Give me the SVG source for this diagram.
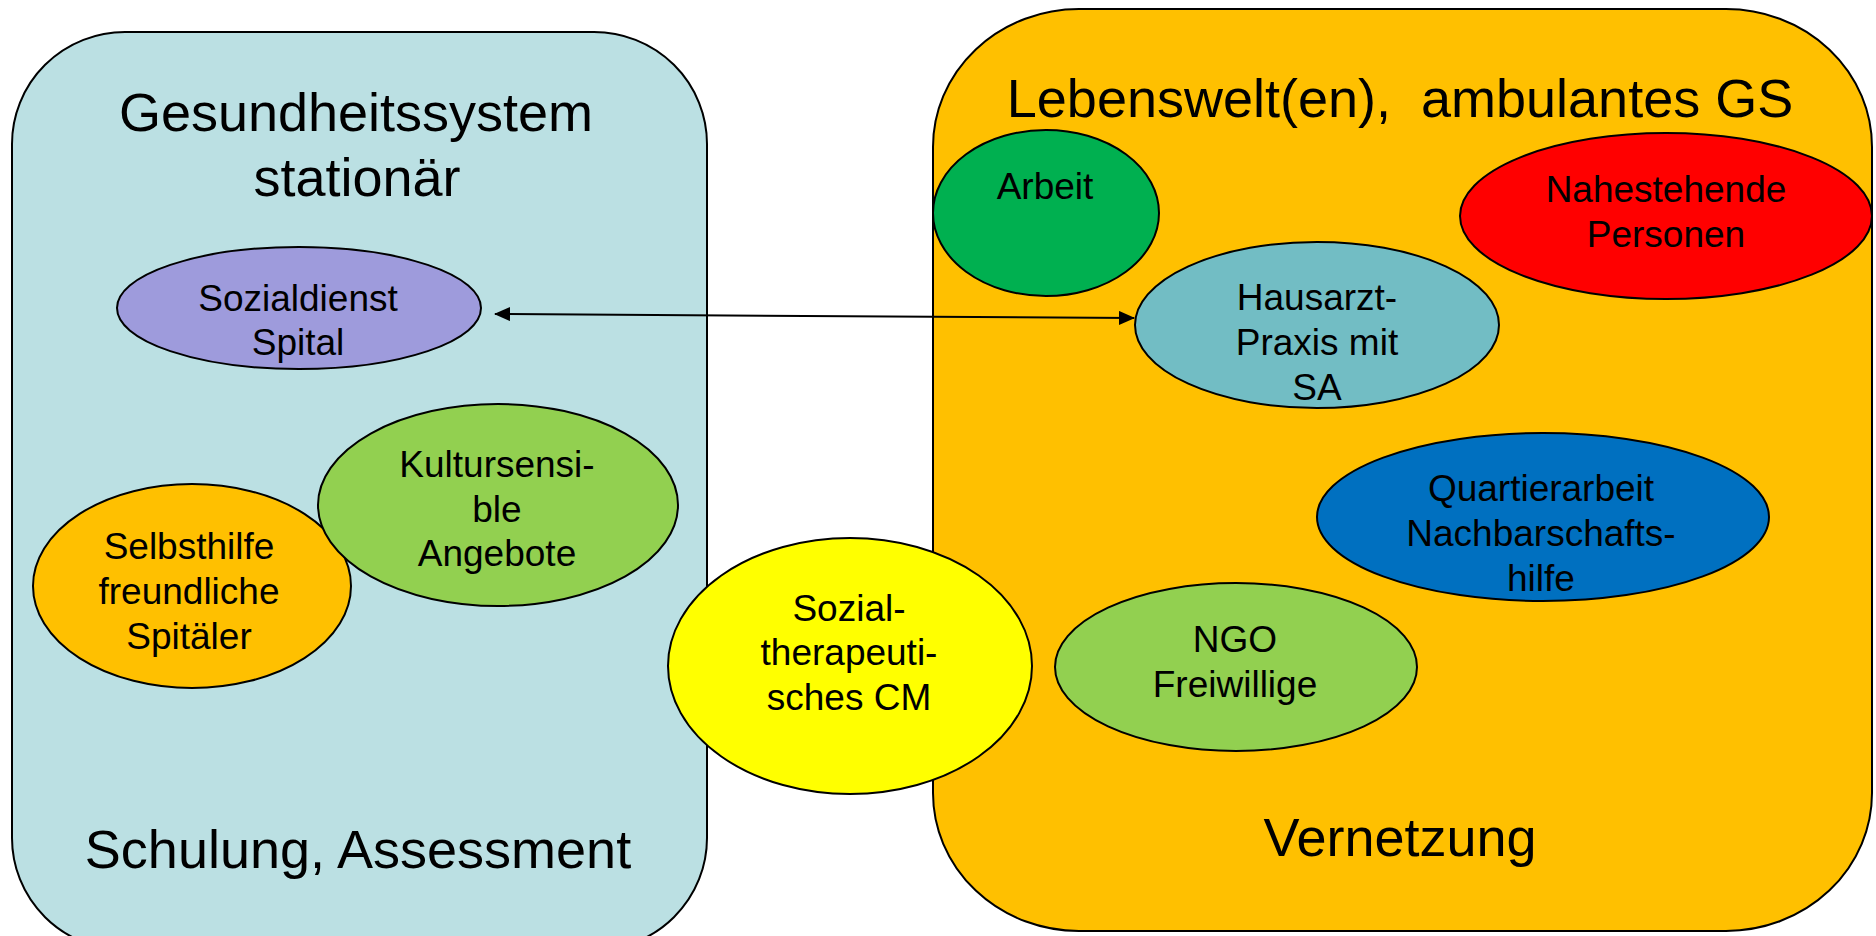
<svg xmlns="http://www.w3.org/2000/svg" width="1876" height="936" viewBox="0 0 1876 936">
<defs>
<style>
.box{stroke:#000;stroke-width:2}
.node{stroke:#000;stroke-width:2}
.big{font-family:"Liberation Sans",Arial,sans-serif;font-size:54px;fill:#000;text-anchor:middle}
.lbl{font-family:"Liberation Sans",Arial,sans-serif;font-size:37px;fill:#000;text-anchor:middle}
.conn{stroke:#000;stroke-width:2;fill:none}
</style>
<marker id="ah" viewBox="0 0 16 14" refX="15" refY="7" markerWidth="16" markerHeight="14" markerUnits="userSpaceOnUse" orient="auto-start-reverse">
<path d="M0,0 L16,7 L0,14 Z" fill="#000"/>
</marker>
</defs>
<rect width="1876" height="936" fill="#fff"/>
<g id="stationaer">
<rect class="box" x="12" y="32" width="695" height="918" rx="113" ry="112" fill="#BBE0E3"/>
<text class="big" x="356" y="131">Gesundheitssystem</text>
<text class="big" x="357" y="196">stationär</text>
<text class="big" x="358" y="868">Schulung, Assessment</text>
</g>
<g id="lebenswelt">
<rect class="box" x="933" y="9" width="939" height="922" rx="146" ry="138" fill="#FFC000"/>
<text class="big" x="1400" y="117">Lebenswelt(en),&#160; ambulantes GS</text>
<text class="big" x="1400" y="856">Vernetzung</text>
</g>
<g id="sozialdienst">
<ellipse class="node" cx="299" cy="308" rx="182" ry="61" fill="#9E9BDC"/>
<text class="lbl" x="298" y="311">Sozialdienst</text>
<text class="lbl" x="298" y="355">Spital</text>
</g>
<g id="selbsthilfe">
<ellipse class="node" cx="192" cy="586" rx="159" ry="102" fill="#FFC000"/>
<text class="lbl" x="189" y="559">Selbsthilfe</text>
<text class="lbl" x="189" y="604">freundliche</text>
<text class="lbl" x="189" y="649">Spitäler</text>
</g>
<g id="kultursensibel">
<ellipse class="node" cx="498" cy="505" rx="180" ry="101" fill="#92D050"/>
<text class="lbl" x="497" y="477">Kultursensi-</text>
<text class="lbl" x="497" y="522">ble</text>
<text class="lbl" x="497" y="566">Angebote</text>
</g>
<g id="arbeit">
<ellipse class="node" cx="1046" cy="213" rx="113" ry="83" fill="#00B050"/>
<text class="lbl" x="1045" y="199">Arbeit</text>
</g>
<g id="nahestehende">
<ellipse class="node" cx="1666" cy="216" rx="206" ry="83" fill="#FF0000"/>
<text class="lbl" x="1666" y="202">Nahestehende</text>
<text class="lbl" x="1666" y="247">Personen</text>
</g>
<g id="hausarzt">
<ellipse class="node" cx="1317" cy="325" rx="182" ry="83" fill="#72BDC4"/>
<text class="lbl" x="1317" y="310">Hausarzt-</text>
<text class="lbl" x="1317" y="355">Praxis mit</text>
<text class="lbl" x="1317" y="400">SA</text>
</g>
<g id="quartierarbeit">
<ellipse class="node" cx="1543" cy="517" rx="226" ry="84" fill="#0070C0"/>
<text class="lbl" x="1541" y="501">Quartierarbeit</text>
<text class="lbl" x="1541" y="546">Nachbarschafts-</text>
<text class="lbl" x="1541" y="591">hilfe</text>
</g>
<g id="ngo">
<ellipse class="node" cx="1236" cy="667" rx="181" ry="84" fill="#92D050"/>
<text class="lbl" x="1235" y="652">NGO</text>
<text class="lbl" x="1235" y="697">Freiwillige</text>
</g>
<g id="sozialtherapeutisch">
<ellipse class="node" cx="850" cy="666" rx="182" ry="128" fill="#FFFF00"/>
<text class="lbl" x="849" y="621">Sozial-</text>
<text class="lbl" x="849" y="665">therapeuti-</text>
<text class="lbl" x="849" y="710">sches CM</text>
</g>
<g id="connectors">
<line class="conn" x1="495" y1="314" x2="1134" y2="318" marker-start="url(#ah)" marker-end="url(#ah)"/>
</g>
</svg>
